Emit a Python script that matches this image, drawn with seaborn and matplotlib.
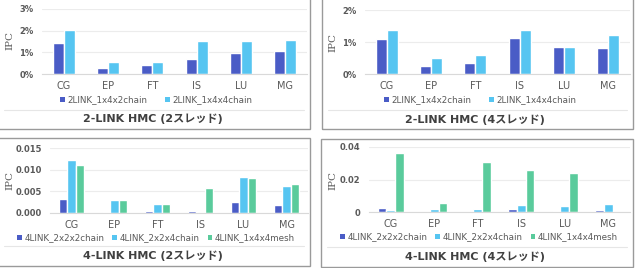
import numpy as np
import pandas as pd
import matplotlib
matplotlib.use('Agg')
import matplotlib.pyplot as plt
import seaborn as sns
from matplotlib.ticker import PercentFormatter, FixedLocator
from matplotlib.patches import Rectangle, Patch
from matplotlib.lines import Line2D

# benchmarks
benchmarks = ['CG', 'EP', 'FT', 'IS', 'LU', 'MG']

# 2-LINK, 2 threads (IPC as fraction)
l2_t2_1x4x2chain = [0.0141, 0.0026, 0.0042, 0.0071, 0.0099, 0.0104]
l2_t2_1x4x4chain = [0.0204, 0.0056, 0.0054, 0.0153, 0.0153, 0.0156]

# 2-LINK, 4 threads
l2_t4_1x4x2chain = [0.0108, 0.0026, 0.0033, 0.0111, 0.0083, 0.0080]
l2_t4_1x4x4chain = [0.0136, 0.0051, 0.0059, 0.0139, 0.0084, 0.0121]

# 4-LINK, 2 threads
l4_t2_2x2x2chain = [0.0032, 0.0003, 0.0005, 0.0004, 0.0025, 0.0018]
l4_t2_2x2x4chain = [0.0122, 0.0029, 0.0021, 0.0002, 0.0082, 0.0063]
l4_t2_1x4x4mesh = [0.0110, 0.0031, 0.0021, 0.0058, 0.0081, 0.0067]

# 4-LINK, 4 threads
l4_t4_2x2x2chain = [0.0023, 0.0001, 0.0002, 0.0017, 0.0008, 0.0012]
l4_t4_2x2x4chain = [0.0010, 0.0020, 0.0019, 0.0044, 0.0035, 0.0048]
l4_t4_1x4x4mesh = [0.0365, 0.0056, 0.0310, 0.0260, 0.0238, 0.0000]

names2 = ['2LINK_1x4x2chain', '2LINK_1x4x4chain']
names4 = ['4LINK_2x2x2chain', '4LINK_2x2x4chain', '4LINK_1x4x4mesh']

titles = ['2-LINK HMC (2スレッド)', '2-LINK HMC (4スレッド)',
          '4-LINK HMC (2スレッド)', '4-LINK HMC (4スレッド)']

DARK = '#4a5cc6'
LIGHT = '#56c5f1'
GREEN = '#5acb9c'
GRAY = '#595959'

W, H = 636, 268


def long_df(series, names):
    rows = []
    for vals, name in zip(series, names):
        for b, v in zip(benchmarks, vals):
            rows.append({'bench': b, 'config': name, 'ipc': v})
    return pd.DataFrame(rows)


def px_axes(fig, left, right, top, bottom):
    return fig.add_axes([left / W, 1 - bottom / H, (right - left) / W, (bottom - top) / H])


sns.set_theme(style='white')
plt.rcParams['font.family'] = ['DejaVu Sans', 'Noto Sans CJK JP']

fig = plt.figure(figsize=(6.36, 2.68), dpi=100)

# panel boxes (x0, x1, y0, y1) in pixels
boxes = [(-2, 310, -2, 129), (322, 633, -2, 129),
         (-2, 310, 138, 266), (321, 633, 139, 267)]
for x0, x1, y0, y1 in boxes:
    fig.patches.append(Rectangle((x0 / W, 1 - y1 / H), (x1 - x0) / W, (y1 - y0) / H,
                                 transform=fig.transFigure, fill=False,
                                 edgecolor='#9a9a9a', linewidth=1.0))
    sep = (y1 - 19) if y0 < 100 else (y1 - 20)
    fig.lines.append(Line2D([(x0 + 6) / W, (x1 - 6) / W], [1 - sep / H, 1 - sep / H],
                            transform=fig.transFigure, color='#e6e6e6', linewidth=0.8))

panels = [
    dict(series=[l2_t2_1x4x2chain, l2_t2_1x4x4chain], names=names2, pal=[DARK, LIGHT],
         rect=(42, 307, 9, 74), ylim=(0, 0.03), ticks=[0, 0.01, 0.02, 0.03], pct=True,
         width=0.5, ylab=(10, 41), leg=(156, 100), title=(153, 119)),
    dict(series=[l2_t4_1x4x2chain, l2_t4_1x4x4chain], names=names2, pal=[DARK, LIGHT],
         rect=(365, 630, 10, 74), ylim=(0, 0.02), ticks=[0, 0.01, 0.02], pct=True,
         width=0.5, ylab=(333, 42), leg=(480, 100), title=(475, 120)),
    dict(series=[l4_t2_2x2x2chain, l4_t2_2x2x4chain, l4_t2_1x4x4mesh], names=names4,
         pal=[DARK, LIGHT, GREEN], rect=(50, 308, 148, 213), ylim=(0, 0.015),
         ticks=[0, 0.005, 0.010, 0.015], pct=False, fmt='{:.3f}',
         width=0.6, ylab=(10, 180), leg=(156, 238), title=(153, 256)),
    dict(series=[l4_t4_2x2x2chain, l4_t4_2x2x4chain, l4_t4_1x4x4mesh], names=names4,
         pal=[DARK, LIGHT, GREEN], rect=(369, 630, 147, 212), ylim=(0, 0.04),
         ticks=[0, 0.02, 0.04], pct=False, fmt='{:g}',
         width=0.6, ylab=(333, 180), leg=(479, 237), title=(475, 257)),
]

for i, p in enumerate(panels):
    ax = px_axes(fig, *p['rect'])
    df = long_df(p['series'], p['names'])
    sns.barplot(data=df, x='bench', y='ipc', hue='config', palette=p['pal'],
                width=p['width'], gap=0, ax=ax, legend=False, saturation=1)
    ax.set_xlim(-0.5, 5.5)
    ax.set_ylim(*p['ylim'])
    ax.yaxis.set_major_locator(FixedLocator(p['ticks']))
    if p['pct']:
        ax.yaxis.set_major_formatter(PercentFormatter(xmax=1, decimals=0))
    else:
        ax.set_yticklabels([p['fmt'].format(t) for t in p['ticks']])
    ax.grid(axis='y', color='#ececec', linewidth=0.8)
    ax.set_axisbelow(True)
    for s in ['top', 'right', 'left']:
        ax.spines[s].set_visible(False)
    ax.spines['bottom'].set_color('#d9d9d9')
    ax.spines['bottom'].set_linewidth(0.8)
    ax.tick_params(axis='y', length=0, pad=6, labelsize=6, labelcolor=GRAY)
    ax.tick_params(axis='x', length=0, pad=5, labelsize=7, labelcolor=GRAY)
    for lab in ax.get_yticklabels():
        lab.set_fontweight('bold')
    ax.set_xlabel('')
    ax.set_ylabel('')
    ax.patch.set_alpha(0)

    fig.text(p['ylab'][0] / W, 1 - p['ylab'][1] / H, 'IPC', rotation=90,
             ha='center', va='center', fontsize=7.5, color=GRAY, family='DejaVu Serif')

    handles = [Patch(facecolor=c, edgecolor='none') for c in p['pal']]
    fig.legend(handles, p['names'], loc='center',
               bbox_to_anchor=(p['leg'][0] / W, 1 - p['leg'][1] / H),
               ncol=len(p['names']), frameon=False, fontsize=6.3,
               handlelength=0.55, handleheight=0.55, handletextpad=0.3,
               columnspacing=0.9 if len(p['names']) == 3 else 2.0,
               labelcolor=GRAY)

    fig.text(p['title'][0] / W, 1 - p['title'][1] / H, titles[i], ha='center',
             va='center', fontsize=8, fontweight='bold', color='#404040')

fig.savefig('out.png', dpi=100)
